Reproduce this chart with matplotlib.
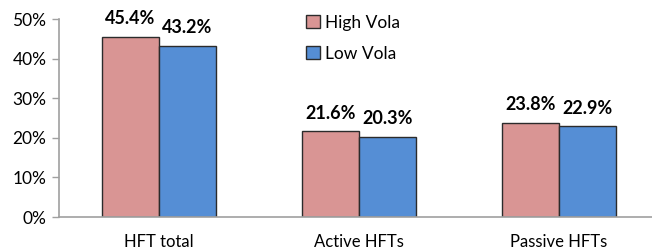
import matplotlib
matplotlib.use("Agg")
import matplotlib.pyplot as plt
import numpy as np
from matplotlib.ticker import FuncFormatter

categories = ["HFT total", "Active HFTs", "Passive HFTs"]
high_vola = [45.4, 21.6, 23.8]
low_vola = [43.2, 20.3, 22.9]
series_names = ["High Vola", "Low Vola"]
yticks = [0, 10, 20, 30, 40, 50]

plt.rcParams['font.family'] = ['Lato', 'DejaVu Sans']

fig = plt.figure(figsize=(6.52, 2.49), dpi=100)
W, H = 652, 249
ax = fig.add_axes([59 / W, 1 - 217 / H, 600 / W, (217 - 19) / H])

x = np.arange(len(categories))
bw = 0.285
pink = "#D99594"
blue = "#558ED5"
b1 = ax.bar(x - bw / 2, high_vola, bw, color=pink, edgecolor="#2b2b2b", linewidth=1.0, label=series_names[0])
b2 = ax.bar(x + bw / 2, low_vola, bw, color=blue, edgecolor="#2b2b2b", linewidth=1.0, label=series_names[1])

for bars, vals in ((b1, high_vola), (b2, low_vola)):
    for r, v in zip(bars, vals):
        ax.annotate(f"{v:.1f}%", (r.get_x() + r.get_width() / 2, v), xytext=(0, 7),
                    textcoords="offset points", ha="center", va="bottom",
                    fontsize=13, fontweight="bold", color="black")

ax.set_xlim(-0.5, 2.5)
ax.set_ylim(0, 50)
ax.set_yticks(yticks)
ax.yaxis.set_major_formatter(FuncFormatter(lambda v, p: f"{v:.0f}%"))
ax.set_xticks(x)
ax.set_xticklabels(categories)
ax.tick_params(axis="x", length=0, pad=12, labelsize=12)
ax.tick_params(axis="y", length=5, width=1, color="#a0a0a0", direction="out", pad=4, labelsize=12.5)

for s in ("top", "right"):
    ax.spines[s].set_visible(False)
for s in ("left", "bottom"):
    ax.spines[s].set_color("#a0a0a0")
    ax.spines[s].set_linewidth(1.2)

leg = ax.legend(loc="upper left", bbox_to_anchor=(0.385, 1.10), frameon=False,
                fontsize=12.5, handlelength=0.8, handleheight=0.8, handletextpad=0.3,
                labelspacing=0.85)

fig.savefig("out.png", dpi=100)
